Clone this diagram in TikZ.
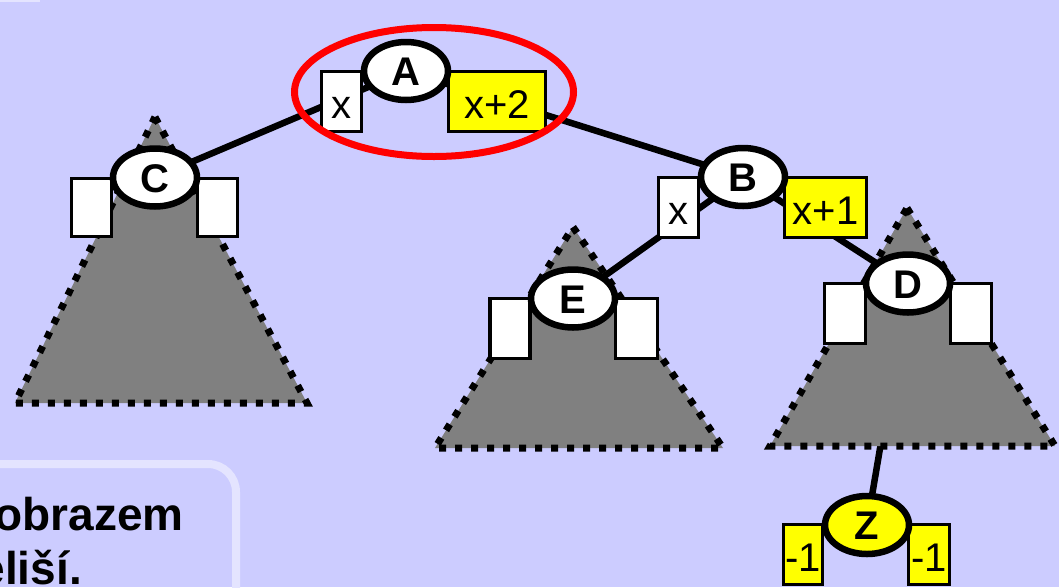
\documentclass[tikz,border=0pt]{standalone}
\usepackage{fontspec}
\setmainfont{Liberation Sans}
\usetikzlibrary{shapes.geometric}
\definecolor{bg}{HTML}{CCCCFF}
\definecolor{lite}{HTML}{E4E4FF}
\definecolor{tgray}{HTML}{808080}
\definecolor{yel}{HTML}{FFFF00}
\definecolor{redring}{HTML}{FF0000}
\begin{document}
\begin{tikzpicture}[x=1pt,y=-1pt,
 tri/.style={fill=tgray, draw=black, line width=7pt, dash pattern=on 7pt off 9pt},
 edge/.style={draw=black, line width=6.5pt},
 key/.style={ellipse, draw=black, fill=white, line width=6.5pt, minimum width=84pt, minimum height=58pt, inner sep=0pt, font=\fontsize{40}{42}\selectfont\bfseries, text height=29pt, text depth=0pt},
 ykey/.style={key, fill=yel},
 wbox/.style={rectangle, draw=black, fill=white, line width=3.5pt, minimum width=40pt, minimum height=60pt, inner sep=0pt, font=\fontsize{40}{42}\selectfont, text height=34pt, text depth=0pt},
 ybox/.style={wbox, fill=yel},
 note/.style={font=\fontsize{46}{50}\selectfont\bfseries, anchor=base east, inner sep=0pt}
]
\useasboundingbox (0,0) rectangle (1059,587);
\fill[bg] (0,0) rectangle (1059,587);
\fill[lite] (0,0) rectangle (40,2);
% note box (partly outside)
\draw[lite, line width=8pt, rounded corners=28pt] (-60,464) rectangle (236,660);
\node[note] (t1) at (184,530) {obrazem};
\node[note] (t2) at (82,584) {eliší.};

% key node positions
\coordinate (pA) at (406,71);
\coordinate (pB) at (743,177);
\coordinate (pC) at (155,177.5);
\coordinate (pD) at (908,283.5);
\coordinate (pE) at (573,298.5);
\coordinate (pZ) at (867,525);

% edge under triangle D
\draw[edge] (pD) -- (pZ);

% subtrees
\draw[tri] (155,117) -- (307,403) -- (15,403) -- cycle;
\draw[tri] (573,227) -- (723,448) -- (435,448) -- cycle;
\draw[tri] (907,208) -- (1055,446) -- (770,446) -- cycle;

% edges
\draw[edge] (pA) -- (pC);
\draw[edge] (pA) -- (pB);
\draw[edge] (pB) -- (pE);
\draw[edge] (pB) -- (pD);

% boxes
\node[wbox] (Ax) at (341.5,101.5) {x};
\node[ybox, minimum width=97pt] (A2) at (497,101.5) {x+2};
\node[wbox, minimum height=58pt] (Cl) at (91.5,207.5) {};
\node[wbox, minimum height=58pt] (Cr) at (217.5,207.5) {};
\node[wbox] (Bx) at (678.5,207.5) {x};
\node[ybox, minimum width=82pt] (B1) at (825.5,207.5) {x+1};
\node[wbox] (El) at (510,328.5) {};
\node[wbox, minimum width=42pt] (Er) at (636.5,328.5) {};
\node[wbox, minimum width=41pt] (Dl) at (845,313.5) {};
\node[wbox, minimum width=41pt] (Dr) at (971,313.5) {};
\node[ybox, minimum width=39pt] (Zl) at (803,554.5) {-1};
\node[ybox, minimum width=41pt] (Zr) at (929,554.5) {-1};

% key ellipses
\node[key] (A) at (pA) {A};
\node[key] (B) at (pB) {B};
\node[key] (C) at (pC) {C};
\node[key] (D) at (pD) {D};
\node[key] (E) at (pE) {E};
\node[ykey] (Z) at (pZ) {Z};

% highlight ring
\draw[redring, line width=7pt] (434,92) ellipse [x radius=139.5pt, y radius=64.5pt];
\end{tikzpicture}
\end{document}
